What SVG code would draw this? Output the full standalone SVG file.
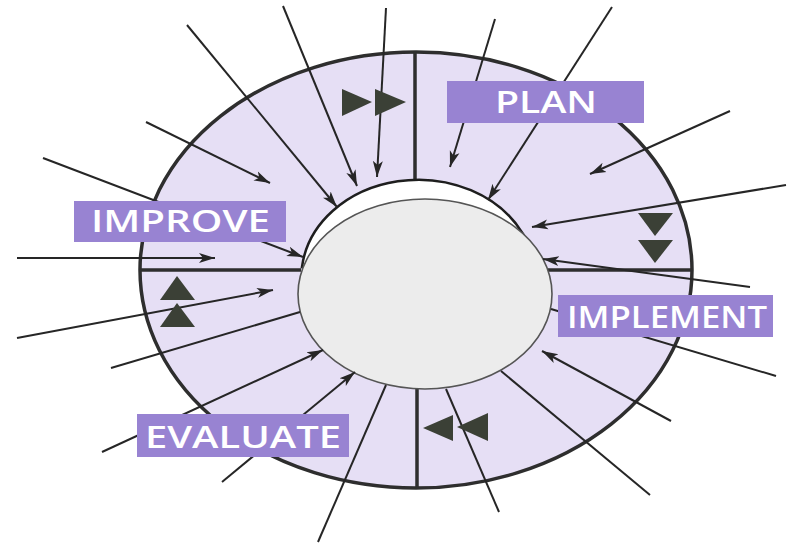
<svg xmlns="http://www.w3.org/2000/svg" width="789" height="545" viewBox="0 0 789 545">
<style>
.ring{fill:#e6dff5;stroke:#2e2e2e;stroke-width:3.5}
.div{stroke:#2e2e2e;stroke-width:3.5;fill:none}
.ln{stroke:#262626;stroke-width:2;fill:none}
.arr{marker-end:url(#ah)}
.tri{fill:#3b4036}
.box{fill:#9883d2}
.lbl{fill:#ffffff;font-family:"Open Sans","Liberation Sans",sans-serif;font-weight:600;font-size:30px}
</style>
<defs>
<marker id="ah" markerUnits="userSpaceOnUse" markerWidth="17" markerHeight="12" viewBox="0 0 17 12" refX="16" refY="6" orient="auto">
<path d="M0,1 L16,6 L0,11 L4,6 Z" fill="#262626"/>
</marker>
</defs>
<rect width="789" height="545" fill="#ffffff"/>
<g id="ring">
<ellipse class="ring" cx="416" cy="270" rx="276" ry="218"/>
<path class="div" d="M415,52 V184 M417,389 V488 M140,270 H301 M548,270 H692"/>
</g>
<g id="hub">
<path d="M302,267 A117,98 0 0 1 523,234 Z" fill="#ffffff" stroke="#1e1e1e" stroke-width="2.5"/>
<ellipse cx="425" cy="294" rx="127" ry="95" fill="#ececec" stroke="#555555" stroke-width="1.6"/>
</g>
<g id="connectors">
<line class="ln arr" x1="187" y1="25" x2="337" y2="207"/>
<line class="ln arr" x1="146" y1="122" x2="270" y2="183"/>
<line class="ln arr" x1="283" y1="6" x2="357" y2="186"/>
<line class="ln arr" x1="386" y1="8" x2="377" y2="177"/>
<line class="ln arr" x1="495" y1="19" x2="450" y2="167"/>
<line class="ln arr" x1="612" y1="7" x2="488" y2="200"/>
<line class="ln arr" x1="730" y1="111" x2="590" y2="174"/>
<line class="ln arr" x1="786" y1="185" x2="532" y2="227"/>
<line class="ln arr" x1="750" y1="287" x2="543" y2="259"/>
<line class="ln" x1="776" y1="376" x2="551" y2="309"/>
<line class="ln arr" x1="671" y1="421" x2="542" y2="351"/>
<line class="ln" x1="650" y1="495" x2="501" y2="371"/>
<line class="ln" x1="499" y1="512" x2="446" y2="389"/>
<line class="ln" x1="318" y1="542" x2="386" y2="385"/>
<line class="ln arr" x1="222" y1="482" x2="355" y2="372"/>
<line class="ln arr" x1="102" y1="452" x2="323" y2="350"/>
<line class="ln" x1="111" y1="368" x2="300" y2="312"/>
<line class="ln arr" x1="17" y1="338" x2="273" y2="290"/>
<line class="ln arr" x1="17" y1="258" x2="215" y2="258"/>
<line class="ln arr" x1="43" y1="158" x2="303" y2="257"/>
</g>
<g id="flow-markers">
<polygon class="tri" points="342,89 372,102 342,116"/>
<polygon class="tri" points="375,89 406,102 375,116"/>
<polygon class="tri" points="638,213 673,213 655,236"/>
<polygon class="tri" points="638,240 673,240 655,263"/>
<polygon class="tri" points="177,276 160,300 195,300"/>
<polygon class="tri" points="177,303 160,327 195,327"/>
<polygon class="tri" points="423,428 453,415 453,441"/>
<polygon class="tri" points="457,427 488,413 488,441"/>
</g>
<g id="plan">
<rect class="box" x="447" y="81" width="197" height="42"/>
<text class="lbl" x="495" y="113" textLength="102" lengthAdjust="spacingAndGlyphs">PLAN</text>
</g>
<g id="implement">
<rect class="box" x="558" y="295" width="215" height="42"/>
<text class="lbl" x="567" y="328" textLength="200" lengthAdjust="spacingAndGlyphs">IMPLEMENT</text>
</g>
<g id="evaluate">
<rect class="box" x="137" y="414" width="212" height="43"/>
<text class="lbl" x="145" y="448" textLength="196" lengthAdjust="spacingAndGlyphs">EVALUATE</text>
</g>
<g id="improve">
<rect class="box" x="74" y="201" width="212" height="41"/>
<text class="lbl" x="91" y="232" textLength="179" lengthAdjust="spacingAndGlyphs">IMPROVE</text>
</g>
</svg>
